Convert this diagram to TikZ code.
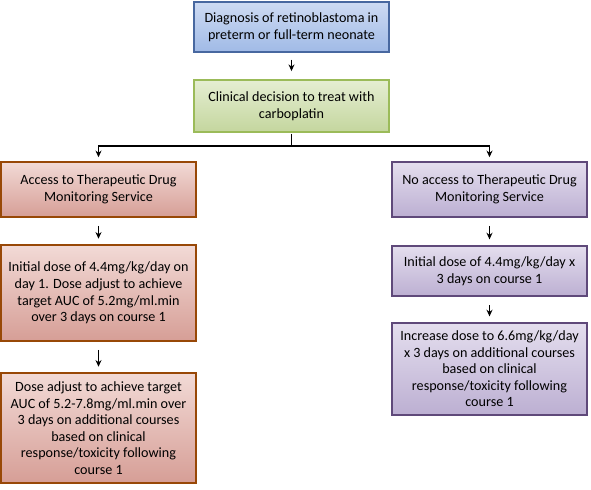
\documentclass[tikz,border=0pt]{standalone}
\usepackage{fontspec}
\setmainfont{Carlito}
\usepackage{tikz}
\usetikzlibrary{positioning, arrows.meta}
\definecolor{diagline}{RGB}{72, 104, 160}
\definecolor{diagtop}{RGB}{206, 219, 243}
\definecolor{diagbot}{RGB}{160, 186, 230}
\definecolor{decline}{RGB}{155, 187, 89}
\definecolor{dectop}{RGB}{229, 238, 210}
\definecolor{decbot}{RGB}{196, 214, 158}
\definecolor{tdmline}{RGB}{152, 72, 7}
\definecolor{tdmtop}{RGB}{242, 218, 214}
\definecolor{tdmbot}{RGB}{214, 158, 150}
\definecolor{notdmline}{RGB}{95, 73, 122}
\definecolor{notdmtop}{RGB}{228, 222, 238}
\definecolor{notdmbot}{RGB}{188, 175, 210}

\begin{document}
\begin{tikzpicture}[x=0.75pt, y=-0.75pt, font=\fontsize{10.6}{12.4}\selectfont,
    box/.style={rectangle, draw, line width=1.4pt, align=center,
                minimum width=146pt, inner sep=2pt},
    diagbox/.style={box, draw=diagline, top color=diagtop, bottom color=diagbot},
    decbox/.style={box, draw=decline, top color=dectop, bottom color=decbot},
    tdmbox/.style={box, draw=tdmline, top color=tdmtop, bottom color=tdmbot},
    notdmbox/.style={box, draw=notdmline, top color=notdmtop, bottom color=notdmbot},
    flow/.style={-{Stealth[length=5pt, width=4.5pt]}, line width=1.2pt}]
  \useasboundingbox (0,0) rectangle (591,489);
  % top of the chart
  \node[diagbox, minimum height=37.5pt] (diag) at (291.5,27)
        {Diagnosis of retinoblastoma in\\preterm or full-term neonate};
  \node[decbox, minimum height=39pt] (decide) at (291.5,106)
        {Clinical decision to treat with\\carboplatin};
  % left branch
  \node[tdmbox, minimum height=41pt] (tdm) at (98.5,189.5)
        {Access to Therapeutic Drug\\Monitoring Service};
  \node[tdmbox, minimum height=72pt] (tdmfirst) at (98.5,293)
        {Initial dose of 4.4mg/kg/day on\\day 1. Dose adjust to achieve\\target AUC of 5.2mg/ml.min\\over 3 days on course 1};
  \node[tdmbox, minimum height=82.5pt] (tdmnext) at (98.5,428)
        {Dose adjust to achieve target\\AUC of 5.2-7.8mg/ml.min over\\3 days on additional courses\\based on clinical\\response/toxicity following\\course 1};
  % right branch
  \node[notdmbox, minimum height=41pt] (notdm) at (489.5,189.5)
        {No access to Therapeutic Drug\\Monitoring Service};
  \node[notdmbox, minimum height=38pt] (notdmfirst) at (489.5,271)
        {Initial dose of 4.4mg/kg/day x\\3 days on course 1};
  \node[notdmbox, minimum height=69.5pt] (notdmnext) at (489.5,369)
        {Increase dose to 6.6mg/kg/day\\x 3 days on additional courses\\based on clinical\\response/toxicity following\\course 1};
  % connectors
  \coordinate (split) at (291.5,146);
  \draw[flow] ([yshift=-5pt]diag.south) -- ([yshift=6pt]decide.north);
  \draw[line width=1.4pt] ([yshift=-0.5pt]decide.south) -- (split);
  \draw[flow, line width=1.4pt] (split) -| ([yshift=3pt]tdm.north);
  \draw[flow, line width=1.4pt] (split) -| ([yshift=3pt]notdm.north);
  \draw[flow] ([yshift=-6pt]tdm.south) -- ([yshift=4pt]tdmfirst.north);
  \draw[flow] ([yshift=-6pt]tdmfirst.south) -- ([yshift=4pt]tdmnext.north);
  \draw[flow] ([yshift=-6pt]notdm.south) -- ([yshift=4pt]notdmfirst.north);
  \draw[flow] ([yshift=-6pt]notdmfirst.south) -- ([yshift=4pt]notdmnext.north);
\end{tikzpicture}
\end{document}
